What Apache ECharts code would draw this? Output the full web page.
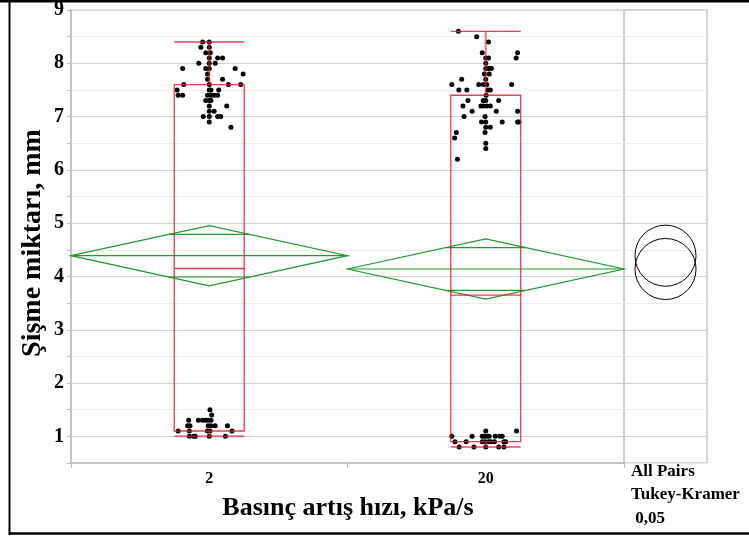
<!DOCTYPE html>
<html>
<head>
<meta charset="utf-8">
<script src="https://cdn.jsdelivr.net/npm/echarts@6/dist/echarts.min.js"></script>
<style>
  html, body { margin: 0; padding: 0; background: #fff; }
  #chart { width: 749px; height: 537px; }
</style>
</head>
<body>
<div id="chart"></div>
<script>
// Pressure-rate groups on the x axis
const groups = ['2', '20'];

// Per-group summary statistics (mm)
const means = [4.39, 4.14];
const meanCIHalf = [0.565, 0.565];
const quartile1 = [1.1, 0.9];
const medians = [4.15, 3.65];
const quartile3 = [7.6, 7.4];
const whiskerLow = [1.0, 0.8];
const whiskerHigh = [8.4, 8.6];
const circleRadius = [0.573, 0.573];

// Observations: [value, jitter]; jitter is a fraction of the half box width
const obsGroup2 = [
  [8.4,-0.19],[8.4,0],[8.3,-0.24],[8.3,0],[8.2,-0.10],[8.2,0.03],
  [8.1,0.24],[8.1,0.38],[8.1,0],[8.0,-0.30],[8.0,0.17],[8.0,0],
  [7.9,-0.76],[7.9,-0.10],[7.9,0],[7.9,0.74],[7.8,0.97],[7.8,-0.05],
  [7.7,-0.05],[7.7,0.38],[7.6,-0.73],[7.6,0.55],[7.6,0.90],[7.6,0],
  [7.5,-0.92],[7.5,0],[7.5,0.05],[7.5,0.27],
  [7.4,-0.89],[7.4,-0.76],[7.4,-0.05],[7.4,0.05],[7.4,0.14],[7.4,0.24],
  [7.3,-0.10],[7.3,0],[7.3,0.05],[7.2,0.50],[7.2,0],[7.1,0],[7.1,0.14],
  [7.0,-0.17],[7.0,0],[7.0,0.24],[7.0,0.33],[6.9,0],[6.8,0.62],
  [1.5,0.02],[1.4,0.07],
  [1.3,-0.59],[1.3,-0.31],[1.3,-0.19],[1.3,-0.10],[1.3,-0.03],[1.3,0.05],
  [1.2,-0.62],[1.2,-0.55],[1.2,-0.03],[1.2,0.05],[1.2,0.17],[1.2,0.52],
  [1.1,-0.89],[1.1,-0.57],[1.1,-0.05],[1.1,0.02],[1.1,0.65],
  [1.0,-0.57],[1.0,-0.45],[1.0,-0.40],[1.0,0],[1.0,0.46]
];
const obsGroup20 = [
  [8.6,-0.78],[8.5,-0.26],[8.4,0.08],[8.2,-0.10],[8.2,0.91],
  [8.1,0],[8.1,0.08],[8.1,0.87],[8.0,0],[7.9,0],[7.9,0.08],[7.9,0.16],
  [7.8,-0.04],[7.8,0.10],[7.7,-0.69],[7.7,0],
  [7.6,-0.97],[7.6,-0.20],[7.6,-0.07],[7.6,0.03],[7.6,0.74],
  [7.5,-0.77],[7.5,-0.54],[7.5,0.06],[7.5,0.13],[7.4,0.01],
  [7.3,-0.51],[7.3,-0.07],[7.3,0],[7.3,0.37],
  [7.2,-0.65],[7.2,-0.14],[7.2,-0.07],[7.2,0.03],[7.2,0.13],
  [7.1,-0.39],[7.1,0.30],[7.1,0.91],[7.0,-0.62],[7.0,-0.02],
  [6.9,-0.12],[6.9,0],[6.9,0.47],[6.9,0.91],[6.9,0.95],
  [6.8,0],[6.8,0.13],[6.7,-0.84],[6.7,-0.02],[6.6,-0.89],
  [6.5,0],[6.4,0],[6.2,-0.81],
  [1.1,0],[1.1,0.88],
  [1.0,-0.97],[1.0,-0.39],[1.0,-0.10],[1.0,-0.04],[1.0,0.03],[1.0,0.10],[1.0,0.27],[1.0,0.40],[1.0,0.47],
  [0.9,-0.88],[0.9,-0.56],[0.9,-0.10],[0.9,-0.02],[0.9,0.08],[0.9,0.15],[0.9,0.25],[0.9,0.52],[0.9,0.57],
  [0.8,-0.76],[0.8,-0.34],[0.8,0],[0.8,0.37],[0.8,0.52]
];

const yTitle = 'Şişme miktarı, mm';
const xTitle = 'Basınç artış hızı, kPa/s';
const compareLabel = ['All Pairs', 'Tukey-Kramer', ' 0,05'];

const SERIF = '"Liberation Serif", "Times New Roman", serif';
const BOX_FRAC = 0.253;           // box width as a share of the category band
const RED = 'rgba(222,30,52,0.85)';
const GREEN = '#1f9a2b';
const GRID_MAJOR = '#d2d2d2';
const GRID_MINOR = '#ececec';

const pointData = [];
[obsGroup2, obsGroup20].forEach((list, gi) => {
  list.forEach(([v, j]) => pointData.push([gi, v, j]));
});

const statData = groups.map((g, i) => [
  i, means[i], meanCIHalf[i], quartile1[i], medians[i], quartile3[i], whiskerLow[i], whiskerHigh[i]
]);

const circleData = groups.map((g, i) => [0.5, means[i], circleRadius[i]]);

const yAxisBase = {
  type: 'value', min: 0.5, max: 9, interval: 0.5,
  splitLine: { show: true, lineStyle: { color: [GRID_MINOR, GRID_MAJOR], width: 1 } }
};

const chart = echarts.init(document.getElementById('chart'), null, { renderer: 'canvas' });

chart.setOption({
  animation: false,
  backgroundColor: '#fff',
  textStyle: { fontFamily: SERIF },
  grid: [
    { left: 71, top: 10, width: 553, height: 453, show: true, borderColor: '#c8c8c8', borderWidth: 1, containLabel: false },
    { left: 624, top: 10, width: 83, height: 453, show: true, borderColor: '#c8c8c8', borderWidth: 1.5, containLabel: false }
  ],
  xAxis: [
    {
      type: 'category', gridIndex: 0, data: groups, boundaryGap: true,
      axisLine: { lineStyle: { color: '#c4c4c4', width: 2 } },
      axisTick: { show: true, length: 5, lineStyle: { color: '#bbbbbb' } },
      axisLabel: { color: '#000', fontFamily: SERIF, fontWeight: 'bold', fontSize: 16, margin: 8 },
      splitLine: { show: false }
    },
    {
      type: 'value', gridIndex: 1, min: 0, max: 1, show: false
    }
  ],
  yAxis: [
    Object.assign({}, yAxisBase, {
      gridIndex: 0,
      axisLine: { show: true, lineStyle: { color: '#c4c4c4', width: 2 } },
      axisTick: { show: true, length: 4, lineStyle: { color: '#bbbbbb' } },
      axisLabel: {
        color: '#000', fontFamily: SERIF, fontWeight: 'bold', fontSize: 20, margin: 7,
        formatter: v => (Number.isInteger(v) ? String(v) : '')
      }
    }),
    Object.assign({}, yAxisBase, {
      gridIndex: 1,
      axisLine: { show: false }, axisTick: { show: false }, axisLabel: { show: false }
    })
  ],
  series: [
    {
      // jittered observations
      type: 'custom', xAxisIndex: 0, yAxisIndex: 0, z: 2,
      data: pointData, encode: { x: 0, y: 1 },
      renderItem(params, api) {
        const c = api.coord([api.value(0), api.value(1)]);
        const band = api.size([1, 0])[0];
        const x = c[0] + api.value(2) * BOX_FRAC * band / 2;
        return { type: 'circle', shape: { cx: x, cy: c[1], r: 2.5 }, style: { fill: '#000' } };
      }
    },
    {
      // mean diamonds with overlap marks
      type: 'custom', xAxisIndex: 0, yAxisIndex: 0, z: 3,
      data: statData, encode: { x: 0, y: 1 },
      renderItem(params, api) {
        const gi = api.value(0), mean = api.value(1), ci = api.value(2);
        const band = api.size([1, 0])[0];
        const cm = api.coord([gi, mean]);
        const top = api.coord([gi, mean + ci])[1];
        const bot = api.coord([gi, mean - ci])[1];
        const left = cm[0] - band / 2, right = cm[0] + band / 2;
        const d = ci / Math.SQRT2;
        const oHalf = band / 2 * (1 - d / ci);
        const oTop = api.coord([gi, mean + d])[1];
        const oBot = api.coord([gi, mean - d])[1];
        const st = { stroke: GREEN, lineWidth: 1.2, fill: null };
        return {
          type: 'group',
          children: [
            { type: 'polygon', shape: { points: [[left, cm[1]], [cm[0], top], [right, cm[1]], [cm[0], bot]] }, style: st },
            { type: 'line', shape: { x1: left, y1: cm[1], x2: right, y2: cm[1] }, style: st },
            { type: 'line', shape: { x1: cm[0] - oHalf, y1: oTop, x2: cm[0] + oHalf, y2: oTop }, style: st },
            { type: 'line', shape: { x1: cm[0] - oHalf, y1: oBot, x2: cm[0] + oHalf, y2: oBot }, style: st }
          ]
        };
      }
    },
    {
      // box plots with whiskers
      type: 'custom', xAxisIndex: 0, yAxisIndex: 0, z: 4,
      data: statData, encode: { x: 0, y: 4 },
      renderItem(params, api) {
        const gi = api.value(0);
        const band = api.size([1, 0])[0];
        const cx = api.coord([gi, 0])[0];
        const half = BOX_FRAC * band / 2;
        const y = v => api.coord([gi, v])[1];
        const q1 = y(api.value(3)), med = y(api.value(4)), q3 = y(api.value(5));
        const lo = y(api.value(6)), hi = y(api.value(7));
        const st = { stroke: RED, lineWidth: 1.3, fill: null };
        const ws = { stroke: 'rgba(222,30,52,0.6)', lineWidth: 2, fill: null };
        return {
          type: 'group',
          children: [
            { type: 'rect', shape: { x: cx - half, y: q3, width: 2 * half, height: q1 - q3 }, style: st },
            { type: 'line', shape: { x1: cx - half, y1: med, x2: cx + half, y2: med }, style: st },
            { type: 'line', shape: { x1: cx, y1: q3, x2: cx, y2: hi }, style: ws },
            { type: 'line', shape: { x1: cx, y1: q1, x2: cx, y2: lo }, style: ws },
            { type: 'line', shape: { x1: cx - half, y1: hi, x2: cx + half, y2: hi }, style: st },
            { type: 'line', shape: { x1: cx - half, y1: lo, x2: cx + half, y2: lo }, style: ws }
          ]
        };
      }
    },
    {
      // comparison circles
      type: 'custom', xAxisIndex: 1, yAxisIndex: 1, z: 3,
      data: circleData, encode: { x: 0, y: 1 },
      renderItem(params, api) {
        const c = api.coord([api.value(0), api.value(1)]);
        const r = api.size([0, api.value(2)])[1];
        return { type: 'circle', shape: { cx: c[0], cy: c[1], r: r }, style: { stroke: '#000', lineWidth: 1, fill: null } };
      }
    }
  ],
  graphic: [
    { type: 'line', shape: { x1: 0, y1: 1.3, x2: 749, y2: 1.3 }, style: { stroke: '#000', lineWidth: 2.6 } },
    { type: 'line', shape: { x1: 9.5, y1: 0, x2: 9.5, y2: 535 }, style: { stroke: '#000', lineWidth: 2 } },
    { type: 'line', shape: { x1: 9, y1: 533.5, x2: 749, y2: 533.5 }, style: { stroke: '#000', lineWidth: 2.5 } },
    {
      type: 'text', x: 33, y: 243, rotation: Math.PI / 2,
      style: { text: yTitle, fill: '#000', font: 'bold 28px ' + SERIF, align: 'center', verticalAlign: 'middle' }
    },
    {
      type: 'text', x: 348, y: 508,
      style: { text: xTitle, fill: '#000', font: 'bold 26px ' + SERIF, align: 'center', verticalAlign: 'middle' }
    },
    {
      type: 'text', x: 631, y: 472,
      style: { text: compareLabel[0], fill: '#000', font: 'bold 17px ' + SERIF, align: 'left', verticalAlign: 'middle' }
    },
    {
      type: 'text', x: 631, y: 495,
      style: { text: compareLabel[1], fill: '#000', font: 'bold 17px ' + SERIF, align: 'left', verticalAlign: 'middle' }
    },
    {
      type: 'text', x: 631, y: 519,
      style: { text: compareLabel[2], fill: '#000', font: 'bold 17px ' + SERIF, align: 'left', verticalAlign: 'middle' }
    }
  ]
});
</script>
</body>
</html>
